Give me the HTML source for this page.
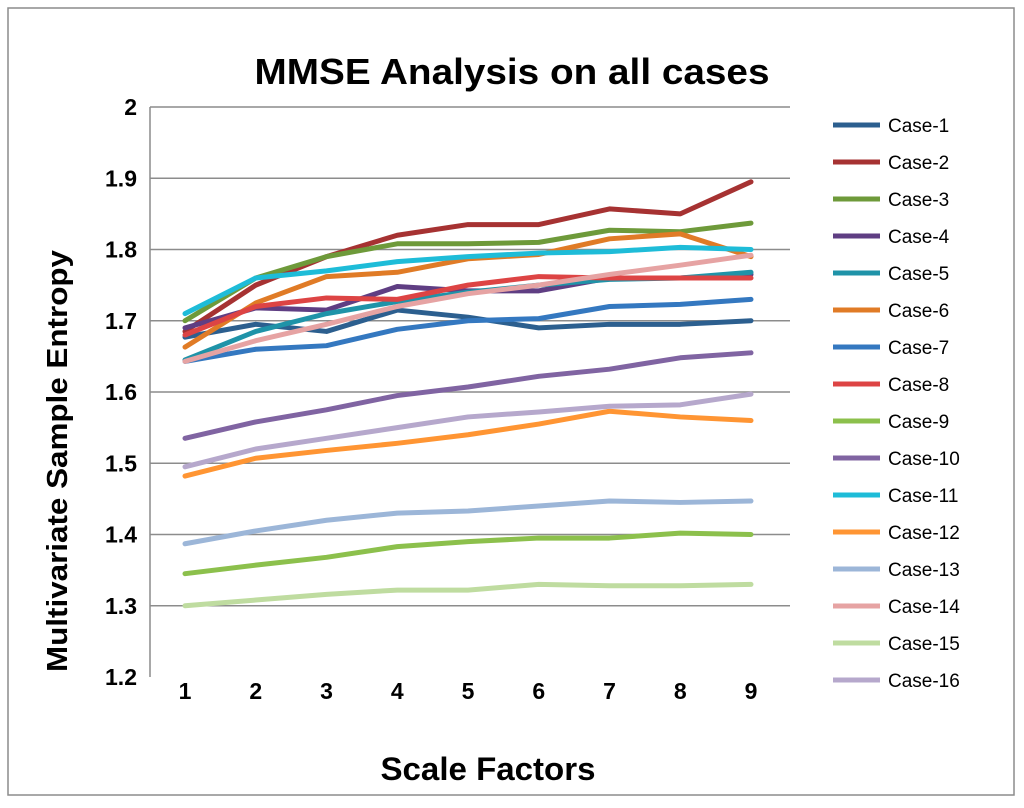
<!DOCTYPE html>
<html><head><meta charset="utf-8"><style>
body{margin:0;background:#fff;font-family:"Liberation Sans",Arial,sans-serif}
</style></head><body>
<svg id="chart" width="1024" height="803" xmlns="http://www.w3.org/2000/svg" font-family="Liberation Sans, Arial, sans-serif">
<rect x="8" y="8" width="1006" height="787" fill="#fff" stroke="#8c8c8c" stroke-width="1.5"/>
<text x="512" y="84" text-anchor="middle" font-size="36" font-weight="bold" textLength="515" lengthAdjust="spacingAndGlyphs">MMSE Analysis on all cases</text>
<g id="grid"></g><g id="series"></g><g id="legend"></g>
<text x="488" y="780" text-anchor="middle" font-size="32" font-weight="bold" textLength="215" lengthAdjust="spacingAndGlyphs">Scale Factors</text>
<text transform="translate(67,461) rotate(-90)" text-anchor="middle" font-size="29" font-weight="bold" textLength="422" lengthAdjust="spacingAndGlyphs">Multivariate Sample Entropy</text>
</svg>
<script>
const categories=[1,2,3,4,5,6,7,8,9];
const yTicks=[1.2,1.3,1.4,1.5,1.6,1.7,1.8,1.9,2];
const names=["Case-1","Case-2","Case-3","Case-4","Case-5","Case-6","Case-7","Case-8","Case-9","Case-10","Case-11","Case-12","Case-13","Case-14","Case-15","Case-16"];
const colors=["#2c5f8f","#a63232","#6e9a3a","#5f3e83","#1f93a8","#e07b26","#3478c0","#dd4444","#8cc04c","#8064a2","#1ebcd8","#ff9533","#9cb6d8","#e6a3a3","#bfdca0","#b6a8cc"];
const case1=[1.677,1.695,1.685,1.715,1.705,1.69,1.695,1.695,1.70];
const case2=[1.685,1.75,1.79,1.82,1.835,1.835,1.857,1.85,1.895];
const case3=[1.70,1.76,1.79,1.808,1.808,1.81,1.827,1.825,1.837];
const case4=[1.69,1.718,1.715,1.748,1.742,1.742,1.76,1.76,1.765];
const case5=[1.645,1.685,1.71,1.727,1.74,1.75,1.758,1.76,1.768];
const case6=[1.663,1.725,1.762,1.768,1.787,1.793,1.815,1.822,1.79];
const case7=[1.643,1.66,1.665,1.688,1.70,1.703,1.72,1.723,1.73];
const case8=[1.68,1.72,1.732,1.73,1.75,1.762,1.76,1.76,1.76];
const case9=[1.345,1.357,1.368,1.383,1.39,1.395,1.395,1.402,1.40];
const case10=[1.535,1.558,1.575,1.595,1.607,1.622,1.632,1.648,1.655];
const case11=[1.71,1.76,1.77,1.783,1.79,1.795,1.797,1.803,1.80];
const case12=[1.482,1.507,1.518,1.528,1.54,1.555,1.573,1.565,1.56];
const case13=[1.387,1.405,1.42,1.43,1.433,1.44,1.447,1.445,1.447];
const case14=[1.643,1.672,1.695,1.72,1.738,1.75,1.765,1.778,1.792];
const case15=[1.30,1.308,1.316,1.322,1.322,1.33,1.328,1.328,1.33];
const case16=[1.495,1.52,1.535,1.55,1.565,1.572,1.58,1.582,1.597];
const seriesData=[case1,case2,case3,case4,case5,case6,case7,case8,case9,case10,case11,case12,case13,case14,case15,case16];
const NS="http://www.w3.org/2000/svg";
const L=150,R=790,T=107,B=677;
function y(v){return B-(v-1.2)/0.8*(B-T);}
function x(c){return 185+(c-1)*70.75;}
function mk(t,a,p){const e=document.createElementNS(NS,t);for(const k in a)e.setAttribute(k,a[k]);p.appendChild(e);return e;}
const g=document.getElementById('grid');
yTicks.forEach(v=>{
 if(v>1.2){const l=mk('line',{x1:L,x2:R,y1:y(v),y2:y(v),stroke:'#8c8c8c','stroke-width':1.5},g);
 
 }
 const t=mk('text',{x:137,y:y(v)+8,'text-anchor':'end','font-size':23,'font-weight':'bold'},g);t.textContent=String(v);
 
 
});
const ax=mk('line',{x1:L,x2:L,y1:T,y2:B,stroke:'#8c8c8c','stroke-width':1.5},g);


categories.forEach(c=>{const t=mk('text',{x:x(c),y:699,'text-anchor':'middle','font-size':23,'font-weight':'bold'},g);t.textContent=c;
 
 });
const s=document.getElementById('series'),lg=document.getElementById('legend');
seriesData.forEach((d,i)=>{
 const p=mk('polyline',{points:d.map((v,j)=>x(categories[j])+','+y(v)).join(' '),fill:'none',stroke:colors[i],'stroke-width':5,'stroke-linejoin':'round','stroke-linecap':'round'},s);
 
 
 const ly=125+i*37;
 const gi=mk('g',{},lg);
 
 
 mk('line',{x1:833,x2:880,y1:ly,y2:ly,stroke:colors[i],'stroke-width':5},gi);
 const t=mk('text',{x:888,y:ly+7,'font-size':19},gi);t.textContent=names[i];
});
</script>
</body></html>
